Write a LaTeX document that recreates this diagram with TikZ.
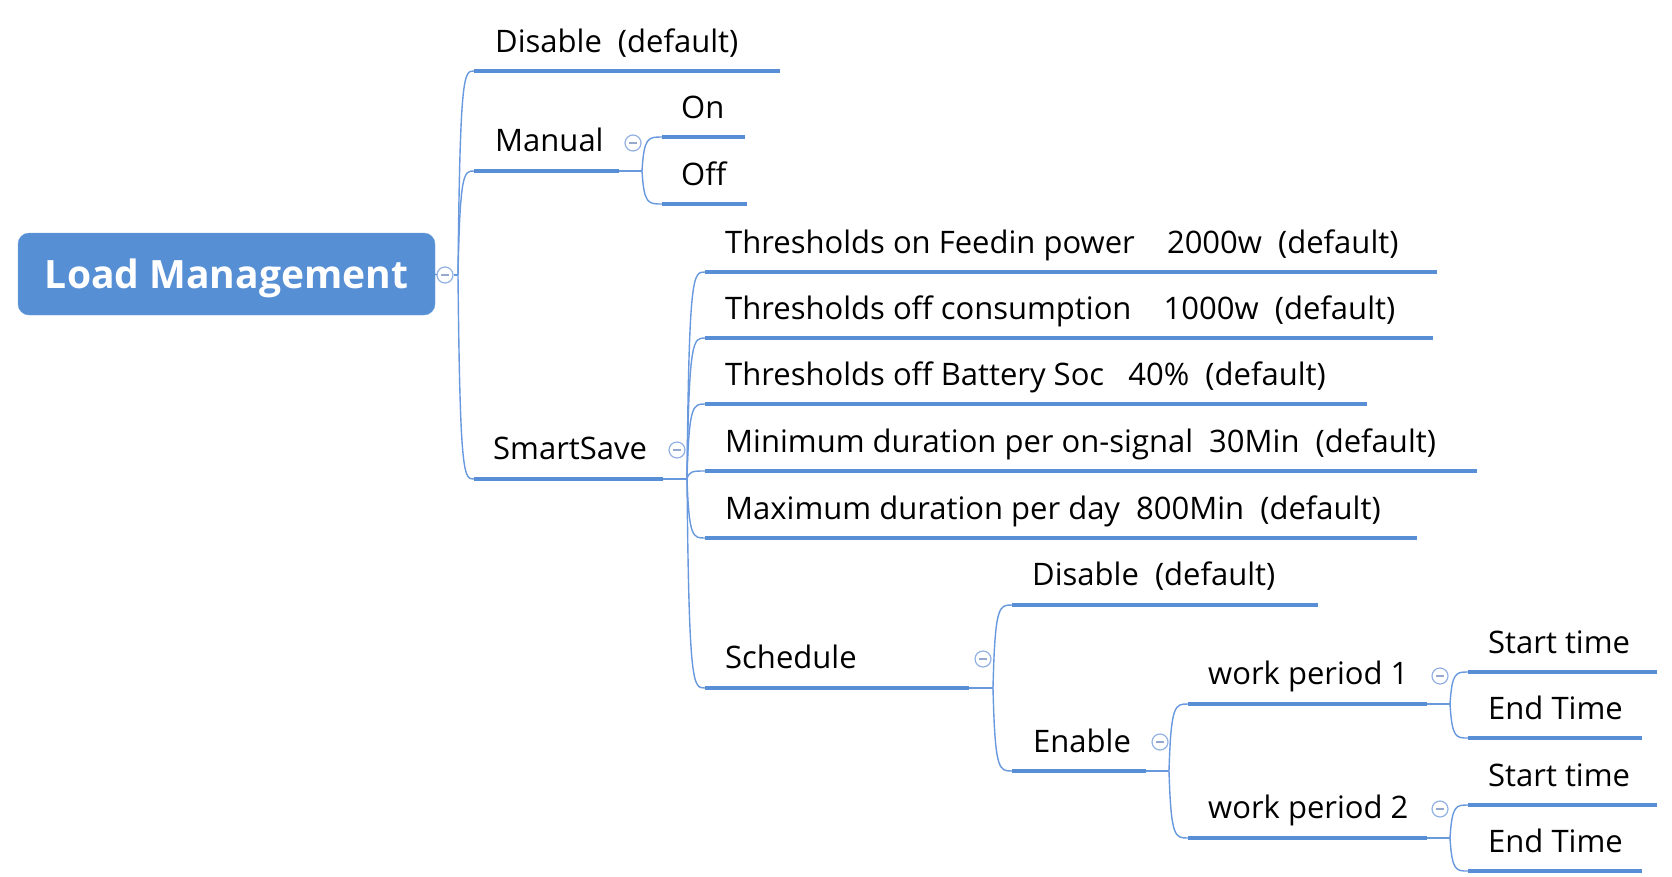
\documentclass[tikz,border=0pt]{standalone}
\usepackage{fontspec}
\setmainfont{Open Sans}
\usetikzlibrary{calc}
\definecolor{rootblue}{RGB}{87,143,213}
\definecolor{barblue}{RGB}{88,142,214}
\definecolor{wireblue}{RGB}{104,152,222}
\definecolor{foldblue}{RGB}{146,176,228}
\definecolor{foldmark}{RGB}{150,168,205}
\tikzset{
  lbl/.style={anchor=base west, inner sep=0pt, text=black,
    font=\fontsize{31}{36}\selectfont},
  bar/.style={draw=barblue, line width=4.2pt, line cap=butt},
  wire/.style={draw=wireblue, line width=1.4pt},
  branch/.style={to path={.. controls ($(\tikztostart |- \tikztotarget)+(2,0)$)
      and ($(\tikztostart |- \tikztotarget)+(6,0)$) .. (\tikztotarget)}},
  fold/.style={circle, draw=foldblue, fill=white, line width=1.2pt,
    minimum size=16pt, inner sep=0pt,
    path picture={\draw[foldmark, line width=1.4pt]
      ([xshift=-4pt]path picture bounding box.center) --
      ([xshift=4pt]path picture bounding box.center);}},
}
\begin{document}
\begin{tikzpicture}[x=1pt, y=-1pt]
\useasboundingbox (0,0) rectangle (1672,876);

% central topic
\node[fill=rootblue, draw=rootblue!85!white, rounded corners=11pt,
  minimum width=417pt, minimum height=82pt, inner sep=0pt,
  text height=28pt, text depth=0pt,
  text=white, font=\fontsize{39}{44}\selectfont\bfseries]
  (root) at (226.5,274) {Load Management};
\node[fold] (f-root) at (445,275) {};
\coordinate (j-root) at (458,275);
\draw[wire] (root.east) -- (f-root.west);
\draw[wire] (f-root.east) -- (j-root);

% first level topics
\coordinate (dis-l) at (474,71);   \coordinate (dis-r) at (780,71);
\coordinate (man-l) at (474,171);  \coordinate (man-r) at (619,171);
\coordinate (ss-l)  at (474,479);  \coordinate (ss-r)  at (663,479);
\node[lbl] (t-dis) at (495,52) {Disable\ \ (default)};
\node[lbl] (t-man) at (495,151) {Manual};
\node[lbl] (t-ss)  at (493,459) {SmartSave};
\draw[bar] (dis-l) -- (dis-r);
\draw[bar] (man-l) -- (man-r);
\draw[bar] (ss-l) -- (ss-r);
\draw[wire] (j-root) to[branch] (dis-l);
\draw[wire] (j-root) to[branch] (man-l);
\draw[wire] (j-root) to[branch] (ss-l);

% Manual
\coordinate (j-man) at (642,171);
\node[fold] (f-man) at (633,143) {};
\draw[wire] (man-r) -- (j-man);
\coordinate (on-l) at (662,137);   \coordinate (on-r) at (745,137);
\coordinate (off-l) at (662,204);  \coordinate (off-r) at (747,204);
\node[lbl] (t-on)  at (681,118) {On};
\node[lbl] (t-off) at (681,185) {Off};
\draw[bar] (on-l) -- (on-r);
\draw[bar] (off-l) -- (off-r);
\draw[wire] (j-man) to[branch] (on-l);
\draw[wire] (j-man) to[branch] (off-l);

% SmartSave
\coordinate (j-ss) at (687,479);
\node[fold] (f-ss) at (677,450) {};
\draw[wire] (ss-r) -- (j-ss);
\coordinate (feed-l) at (705,272);  \coordinate (feed-r) at (1437,272);
\coordinate (cons-l) at (705,338);  \coordinate (cons-r) at (1433,338);
\coordinate (batt-l) at (705,404);  \coordinate (batt-r) at (1367,404);
\coordinate (min-l)  at (705,471);  \coordinate (min-r)  at (1477,471);
\coordinate (max-l)  at (705,538);  \coordinate (max-r)  at (1417,538);
\coordinate (sch-l)  at (705,688);  \coordinate (sch-r)  at (969,688);
\node[lbl] (t-feed) at (725,253) {Thresholds on Feedin power\ \ \ \ 2000w\ \ (default)};
\node[lbl] (t-cons) at (725,319) {Thresholds off consumption\ \ \ \ 1000w\ \ (default)};
\node[lbl] (t-batt) at (725,385) {Thresholds off Battery Soc\ \ \ 40\%\ \ (default)};
\node[lbl] (t-min)  at (725,452) {Minimum duration per on-signal\ \ 30Min\ \ (default)};
\node[lbl] (t-max)  at (725,519) {Maximum duration per day\ \ 800Min\ \ (default)};
\node[lbl] (t-sch)  at (725,668) {Schedule};
\foreach \k in {feed,cons,batt,min,max,sch}{
  \draw[bar] (\k-l) -- (\k-r);
  \draw[wire] (j-ss) to[branch] (\k-l);
}

% Schedule
\coordinate (j-sch) at (993,688);
\node[fold] (f-sch) at (983,659) {};
\draw[wire] (sch-r) -- (j-sch);
\coordinate (sdis-l) at (1012,605);  \coordinate (sdis-r) at (1318,605);
\coordinate (en-l)   at (1012,771);  \coordinate (en-r)   at (1146,771);
\node[lbl] (t-sdis) at (1032,585) {Disable\ \ (default)};
\node[lbl] (t-en)   at (1033,752) {Enable};
\draw[bar] (sdis-l) -- (sdis-r);
\draw[bar] (en-l) -- (en-r);
\draw[wire] (j-sch) to[branch] (sdis-l);
\draw[wire] (j-sch) to[branch] (en-l);

% Enable
\coordinate (j-en) at (1169,771);
\node[fold] (f-en) at (1160,742) {};
\draw[wire] (en-r) -- (j-en);
\coordinate (wpa-l) at (1188,704);  \coordinate (wpa-r) at (1427,704);
\coordinate (wpb-l) at (1188,838);  \coordinate (wpb-r) at (1427,838);
\node[lbl] (t-wpa) at (1208,684) {work period 1};
\node[lbl] (t-wpb) at (1208,818) {work period 2};
\draw[bar] (wpa-l) -- (wpa-r);
\draw[bar] (wpb-l) -- (wpb-r);
\draw[wire] (j-en) to[branch] (wpa-l);
\draw[wire] (j-en) to[branch] (wpb-l);

% work periods
\foreach \w/\yj/\yf/\ys/\ye/\bs/\be in {a/704/676/672/738/653/719, b/838/809/805/871/786/852}{
  \coordinate (j-\w) at (1450,\yj);
  \node[fold] (f-\w) at (1440,\yf) {};
  \draw[wire] (wp\w-r) -- (j-\w);
  \coordinate (st\w-l) at (1468,\ys);  \coordinate (st\w-r) at (1657,\ys);
  \coordinate (et\w-l) at (1468,\ye);  \coordinate (et\w-r) at (1642,\ye);
  \node[lbl] (t-st\w) at (1488,\bs) {Start time};
  \node[lbl] (t-et\w) at (1488,\be) {End Time};
  \draw[bar] (st\w-l) -- (st\w-r);
  \draw[bar] (et\w-l) -- (et\w-r);
  \draw[wire] (j-\w) to[branch] (st\w-l);
  \draw[wire] (j-\w) to[branch] (et\w-l);
}
\end{tikzpicture}
\end{document}
